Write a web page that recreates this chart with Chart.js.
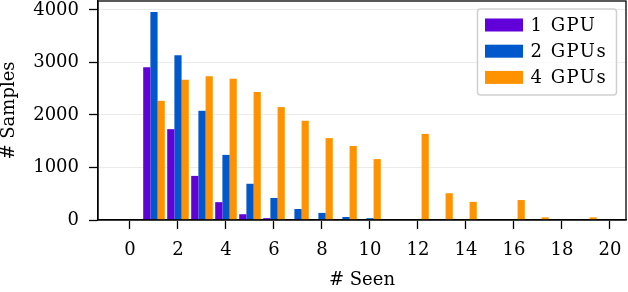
<!DOCTYPE html>
<html>
<head>
<meta charset="utf-8">
<script src="https://cdn.jsdelivr.net/npm/chart.js@4.4.0/dist/chart.umd.min.js"></script>
<style>
  html, body { margin: 0; padding: 0; background: #fff; }
  #wrap { width: 628px; height: 292px; }
</style>
</head>
<body>
<div id="wrap"><canvas id="seenChart"></canvas></div>
<script>
// how many times a sample was seen, and how many samples per count
const seen = [0, 1, 2, 3, 4, 5, 6, 7, 8, 9, 10, 11, 12, 13, 14, 15, 16, 17, 18, 19, 20];
const gpu1 = [0, 2910, 1730, 840, 340, 110, 35, 0, 0, 0, 0, 0, 0, 0, 0, 0, 0, 0, 0, 0, 0];
const gpu2 = [0, 3960, 3140, 2080, 1240, 690, 420, 210, 135, 57, 35, 0, 0, 0, 0, 0, 0, 0, 0, 0, 0];
const gpu4 = [0, 2270, 2670, 2740, 2690, 2440, 2150, 1890, 1560, 1410, 1160, 0, 1640, 510, 345, 0, 380, 50, 0, 50, 0];
const xTicks = [0, 2, 4, 6, 8, 10, 12, 14, 16, 18, 20];
const yTicks = [0, 1000, 2000, 3000, 4000];

const FONT = '"DejaVu Serif", "Liberation Serif", serif';

const toPoints = (vals) => seen.map((s, i) => ({ x: s, y: vals[i] }));

// matplotlib-style box around the plot
const frame = {
  id: 'frame',
  afterDatasetsDraw(chart) {
    const { ctx, chartArea: a } = chart;
    ctx.save();
    ctx.strokeStyle = '#000';
    ctx.lineWidth = 1.3;
    ctx.strokeRect(a.left, a.top, a.right - a.left, a.bottom - a.top);
    ctx.restore();
  }
};

// legend drawn in the upper right corner of the plot
const legendBox = {
  id: 'legendBox',
  afterDraw(chart) {
    const { ctx, chartArea: a } = chart;
    const w = 139, h = 86;
    const x = a.right - 9.5 - w, y = a.top + 8;
    ctx.save();
    ctx.beginPath();
    ctx.roundRect(x, y, w, h, 3);
    ctx.fillStyle = 'rgba(255,255,255,0.8)';
    ctx.fill();
    ctx.strokeStyle = '#d0d0d0';
    ctx.lineWidth = 1.5;
    ctx.stroke();
    ctx.font = '18px ' + FONT;
    ctx.letterSpacing = '1.5px';
    ctx.textBaseline = 'middle';
    chart.data.datasets.forEach((ds, i) => {
      const cy = y + 16 + i * 26.2;
      ctx.fillStyle = ds.backgroundColor;
      ctx.fillRect(x + 7.5, cy - 6.5, 38, 13);
      ctx.fillStyle = '#000';
      ctx.fillText(ds.label, x + 53, cy + 1);
    });
    ctx.restore();
  }
};

new Chart(document.getElementById('seenChart'), {
  type: 'bar',
  data: {
    datasets: [
      { label: '1 GPU', data: toPoints(gpu1), backgroundColor: '#6200d9' },
      { label: '2 GPUs', data: toPoints(gpu2), backgroundColor: '#0059cc' },
      { label: '4 GPUs', data: toPoints(gpu4), backgroundColor: '#ff9200' }
    ]
  },
  options: {
    responsive: true,
    maintainAspectRatio: false,
    animation: false,
    layout: { padding: { top: 1, right: 2, left: 0, bottom: 0 } },
    datasets: { bar: { barPercentage: 1, categoryPercentage: 0.9, borderWidth: 0 } },
    plugins: { legend: { display: false }, tooltip: { enabled: false } },
    scales: {
      x: {
        type: 'linear',
        offset: false,
        min: -1.333,
        max: 20.667,
        afterBuildTicks: (s) => { s.ticks = xTicks.map(v => ({ value: v })); },
        afterFit: (s) => { s.height = 72; s.paddingLeft = 0; s.paddingRight = 0; },
        grid: { offset: false, drawOnChartArea: false, drawTicks: true, tickLength: 9, tickWidth: 1.3, tickColor: '#000' },
        border: { color: '#000', width: 1.3 },
        ticks: { color: '#000', padding: 11, maxRotation: 0, font: { family: FONT, size: 18 } },
        title: { display: true, text: '# Seen', color: '#000', padding: { top: 0, bottom: 1 }, font: { family: FONT, size: 18 } }
      },
      y: {
        min: 0,
        max: 4171,
        afterBuildTicks: (s) => { s.ticks = yTicks.map(v => ({ value: v })); },
        afterFit: (s) => { s.width = 98; s.paddingTop = 0; s.paddingBottom = 0; },
        grid: { color: '#ebebeb', lineWidth: 1, drawTicks: true, tickLength: 9, tickWidth: 1.3, tickColor: '#000' },
        border: { color: '#000', width: 1.3 },
        ticks: { color: '#000', padding: 10, callback: (v) => String(v), font: { family: FONT, size: 18 } },
        title: { display: true, text: '# Samples', color: '#000', padding: 0, font: { family: FONT, size: 18, lineHeight: 1 } }
      }
    }
  },
  plugins: [frame, legendBox]
});
</script>
</body>
</html>
